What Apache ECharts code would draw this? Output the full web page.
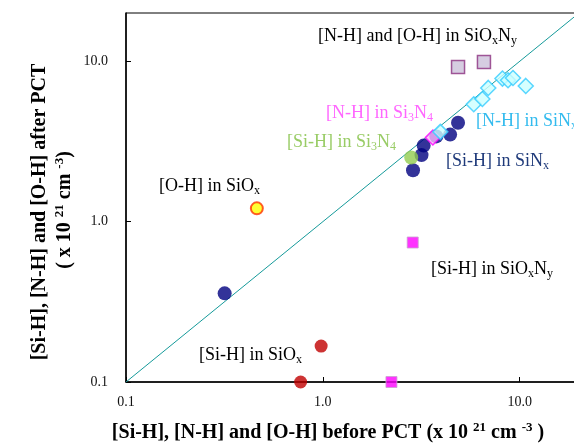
<!DOCTYPE html>
<html><head><meta charset="utf-8">
<script src="https://cdn.jsdelivr.net/npm/echarts@6/dist/echarts.min.js"></script>
<style>html,body{margin:0;padding:0;background:#fff}#c{width:574px;height:445px}</style>
</head><body><div id="c"></div>
<script>
// ---- data (x = before PCT, y = after PCT, x10^21 cm^-3) ----
const axisTicks = [0.1, 1, 10];
const diagonal = [[0.1, 0.1], [20, 20]];
const siH_SiNx = [[0.317,0.357],[2.87,2.09],[3.17,2.60],[3.25,2.98],[3.77,3.40],[4.43,3.49],[4.86,4.14]];
const siH_Si3N4 = [[2.81,2.51]];
const nH_Si3N4 = [[3.62,3.35]];
const nH_SiNx = [[3.95,3.63],[5.84,5.40],[6.46,5.82],[6.92,6.82],[8.17,7.80],[8.72,7.61],[9.24,7.87],[10.73,7.02]];
const nHoH_SiOxNy = [[4.86,9.2],[6.58,9.9]];
const oH_SiOx = [[0.462,1.21]];
const siH_SiOx = [[0.98,0.1675],[0.771,0.1]];
const siH_SiOxNy = [[2.86,0.741],[2.23,0.1]];

const SERIF = '"Liberation Serif","Times New Roman",serif';
const chart = echarts.init(document.getElementById('c'), null, {renderer:'canvas'});

function isDecade(v){ const l = Math.log10(v); return Math.abs(l - Math.round(l)) < 1e-6 && axisTicks.some(t => Math.abs(t - v) < 1e-9 * Math.max(1, t) || Math.abs(Math.log10(t) - l) < 1e-6); }
function fmt(v){ return isDecade(v) ? Number(v).toFixed(1) : ''; }

function richLabel(color){
  return {
    n: {fontSize: 18, fontFamily: SERIF, fill: color, lineHeight: 22},
    s: {fontSize: 12, fontFamily: SERIF, fill: color, lineHeight: 10, verticalAlign: 'bottom'}
  };
}
function label(x, y, text, color){
  return {type:'text', x:x, y:y, z:100,
    style:{text:text, rich:richLabel(color), verticalAlign:'middle', align:'left'}};
}
const titleRich = {
  b: {fontSize: 20, fontWeight:'bold', fontFamily: SERIF, fill:'#000', lineHeight: 24},
  p: {fontSize: 13, fontWeight:'bold', fontFamily: SERIF, fill:'#000', lineHeight: 12, verticalAlign:'top'}
};

const commonAxis = {
  type:'log', logBase:10, min:0.1, max:20,
  axisLine:{show:true, onZero:false, lineStyle:{color:'#000', width:1.5}},
  axisTick:{show:true, inside:true, length:5, lineStyle:{color:'#000', width:1}},
  splitLine:{show:false}, minorTick:{show:false},
  axisLabel:{formatter: fmt, fontFamily: SERIF, fontSize: 14, color:'#111', showMaxLabel:false}
};

chart.setOption({
  animation:false,
  grid:{left:126, right:-5, top:13, bottom:63, show:true, borderColor:'#000', borderWidth:1, outerBoundsMode:'none', containLabel:false},
  xAxis: Object.assign({}, commonAxis, {axisLabel: Object.assign({}, commonAxis.axisLabel, {margin: 13})}),
  yAxis: Object.assign({}, commonAxis, {axisLabel: Object.assign({}, commonAxis.axisLabel, {margin: 18})}),
  series:[
    {type:'line', data:diagonal, symbol:'none', lineStyle:{color:'#159a9a', width:1}, z:1, silent:true},
    {type:'scatter', data:siH_SiNx, symbol:'circle', symbolSize:14, clip:false, itemStyle:{color:'#000080'}, z:2},
    {type:'scatter', data:siH_Si3N4, symbol:'circle', symbolSize:14, clip:false, itemStyle:{color:'#92cc4f'}, z:3},
    {type:'scatter', data:nH_Si3N4, symbol:'diamond', symbolSize:15, clip:false, itemStyle:{color:'#ffb3ff', borderColor:'#ff00ff', borderWidth:1.5}, z:4},
    {type:'scatter', data:nH_SiNx, symbol:'diamond', symbolSize:15, clip:false, itemStyle:{color:'#ccffff', borderColor:'#33ccff', borderWidth:1.5}, z:5},
    {type:'scatter', data:nHoH_SiOxNy, symbol:'rect', symbolSize:13, clip:false, itemStyle:{color:'#ccc0da', borderColor:'#8b2f7f', borderWidth:1.5}, z:3},
    {type:'scatter', data:oH_SiOx, symbol:'circle', symbolSize:12, clip:false, itemStyle:{color:'#ffff00', borderColor:'#ff3300', borderWidth:2}, z:3},
    {type:'scatter', data:siH_SiOx, symbol:'circle', symbolSize:13, clip:false, itemStyle:{color:'#c00000'}, z:3},
    {type:'scatter', data:siH_SiOxNy, symbol:'rect', symbolSize:11, clip:false, itemStyle:{color:'#ff00ff', borderColor:'#c9a0d0', borderWidth:1}, z:3}
  ],
  graphic:[
    label(318, 36, '{n|[N-H] and [O-H] in SiO}{s|x}{n|N}{s|y}', '#000'),
    label(326, 113, '{n|[N-H] in Si}{s|3}{n|N}{s|4}', '#ff66ff'),
    label(287, 142, '{n|[Si-H] in Si}{s|3}{n|N}{s|4}', '#99cc66'),
    label(476, 121, '{n|[N-H] in SiN}{s|x}', '#33bbee'),
    label(446, 161, '{n|[Si-H] in SiN}{s|x}', '#1f3a7a'),
    label(159, 186, '{n|[O-H] in SiO}{s|x}', '#000'),
    label(431, 269, '{n|[Si-H] in SiO}{s|x}{n|N}{s|y}', '#000'),
    label(199, 355, '{n|[Si-H] in SiO}{s|x}', '#000'),
    {type:'text', x:328, y:433, z:100, style:{text:'{b|[Si-H], [N-H] and [O-H] before PCT (x 10 }{p|21}{b| cm }{p|-3}{b| )}', rich:titleRich, align:'center', verticalAlign:'middle'}},
    {type:'text', x:40, y:212, rotation:Math.PI/2, z:100, style:{text:'{b|[Si-H], [N-H] and [O-H] after PCT}', rich:titleRich, align:'center', verticalAlign:'middle'}},
    {type:'text', x:65, y:210, rotation:Math.PI/2, z:100, style:{text:'{b|( x 10 }{p|21}{b| cm }{p|-3}{b|)}', rich:titleRich, align:'center', verticalAlign:'middle'}}
  ]
});
</script></body></html>
